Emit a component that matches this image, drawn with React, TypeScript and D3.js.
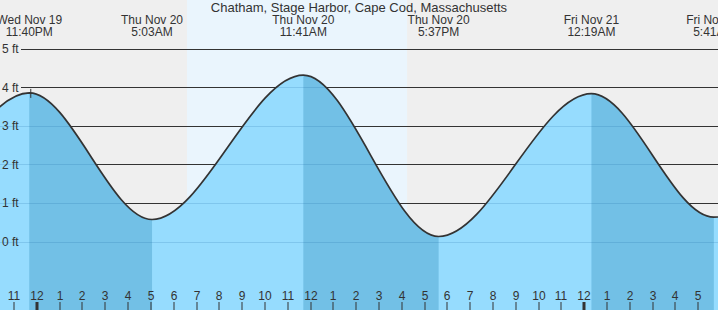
import React from "react";
import * as d3 from "d3";

const W = 718;
const H = 310;

const title = "Chatham, Stage Harbor, Cape Cod, Massachusetts";

// tide extremes (local time), heights in ft; first two / last one lie outside the view
const tideTimes = [
  "2025-11-19T11:10",
  "2025-11-19T17:10",
  "2025-11-19T23:40",
  "2025-11-20T05:03",
  "2025-11-20T11:41",
  "2025-11-20T17:37",
  "2025-11-21T00:19",
  "2025-11-21T05:41",
  "2025-11-21T12:20",
];
const tideHeights = [4.1, 0.35, 3.85, 0.57, 4.31, 0.13, 3.83, 0.63, 4.2];

const eventDates = ["Wed Nov 19", "Thu Nov 20", "Thu Nov 20", "Thu Nov 20", "Fri Nov 21", "Fri Nov 21"];
const eventClock = ["11:40PM", "5:03AM", "11:41AM", "5:37PM", "12:19AM", "5:41AM"];
const eventTimes = [
  "2025-11-19T23:40",
  "2025-11-20T05:03",
  "2025-11-20T11:41",
  "2025-11-20T17:37",
  "2025-11-21T00:19",
  "2025-11-21T05:41",
];

const sunrise = "2025-11-20T06:35";
const sunset = "2025-11-20T16:14";
const markerTime = "2025-11-19T23:40";
const markerHeight = 3.85;

const domainStart = "2025-11-19T22:23";
const domainEnd = "2025-11-21T05:52";

const feetTicks = [0, 1, 2, 3, 4, 5];

const parse = (s: string) => {
  const [d, t] = s.split("T");
  const [Y, M, D] = d.split("-").map(Number);
  const [h, m] = t.split(":").map(Number);
  return new Date(Date.UTC(Y, M - 1, D, h, m));
};

const FONT = "'Liberation Sans', Arial, Helvetica, sans-serif";
const TXT = "#333";

export default function App() {
  const x = d3.scaleUtc().domain([parse(domainStart), parse(domainEnd)]).range([0, W]);
  const y = d3.scaleLinear().domain([0, 5]).range([241.5, 48.5]);

  const pts = tideTimes.map((t, i) => ({ t: parse(t), h: tideHeights[i] }));
  const line = d3
    .line<{ t: Date; h: number }>()
    .x((d) => x(d.t))
    .y((d) => y(d.h))
    .curve(d3.curveMonotoneX);
  const area = d3
    .area<{ t: Date; h: number }>()
    .x((d) => x(d.t))
    .y0(H + 5)
    .y1((d) => y(d.h))
    .curve(d3.curveMonotoneX);

  const falling: { a: Date; b: Date }[] = [];
  for (let i = 0; i < pts.length - 1; i++) {
    if (pts[i].h > pts[i + 1].h) falling.push({ a: pts[i].t, b: pts[i + 1].t });
  }

  const hours = x.ticks(d3.utcHour.every(1) as any);
  const fmtH = d3.utcFormat("%-I");

  const areaD = area(pts) || "";
  const gx0 = 21;

  return (
    <svg
      width={W}
      height={H}
      style={{ position: "absolute", left: 0, top: 0, display: "block" }}
      fontFamily={FONT}
    >
      <defs>
        <clipPath id="water">
          <path d={areaD} />
        </clipPath>
      </defs>
      <rect x={0} y={0} width={W} height={H} fill="#efefef" />
      <rect
        x={x(parse(sunrise))}
        y={0}
        width={x(parse(sunset)) - x(parse(sunrise))}
        height={H}
        fill="#eaf5fd"
      />
      {feetTicks.map((f) => (
        <line
          key={"g" + f}
          x1={gx0}
          x2={W}
          y1={Math.round(y(f)) + 0.5}
          y2={Math.round(y(f)) + 0.5}
          stroke="#333"
          strokeWidth={1}
        />
      ))}
      <path d={areaD} fill="#96dcfe" />
      <g clipPath="url(#water)">
        {falling.map((s, i) => (
          <rect key={"f" + i} x={x(s.a)} y={0} width={x(s.b) - x(s.a)} height={H} fill="#72c0e6" />
        ))}
        {feetTicks.map((f) => (
          <line
            key={"w" + f}
            x1={0}
            x2={W}
            y1={Math.round(y(f)) + 0.5}
            y2={Math.round(y(f)) + 0.5}
            stroke="rgba(20,100,160,0.18)"
            strokeWidth={1}
          />
        ))}
      </g>
      <path d={line(pts) || ""} fill="none" stroke="#333" strokeWidth={1.7} />
      {/* marker */}
      <g stroke="#333" strokeWidth={1}>
        <line x1={x(parse(markerTime)) + 1.5} x2={x(parse(markerTime)) + 1.5} y1={y(markerHeight) - 4} y2={y(markerHeight) + 5} />
        <line x1={x(parse(markerTime)) - 2.5} x2={x(parse(markerTime)) + 5.5} y1={y(markerHeight) + 0.5} y2={y(markerHeight) + 0.5} />
      </g>
      {feetTicks.map((f) => (
        <text key={"l" + f} x={2} y={y(f) + 4.5} fontSize={12} fill={TXT}>
          {f} ft
        </text>
      ))}
      <text x={W / 2} y={12} fontSize={13} fill={TXT} textAnchor="middle">
        {title}
      </text>
      {eventTimes.map((t, i) => (
        <g key={"e" + i}>
          <text x={x(parse(t))} y={23.5} fontSize={12} fill={TXT} textAnchor="middle">
            {eventDates[i]}
          </text>
          <text x={x(parse(t))} y={36} fontSize={12} fill={TXT} textAnchor="middle">
            {eventClock[i]}
          </text>
        </g>
      ))}
      {hours.map((h, i) => {
        const mid = h.getUTCHours() === 0;
        const px = Math.round(x(h));
        return (
          <g key={"h" + i}>
            <text x={px} y={300} fontSize={12} fill={TXT} textAnchor="middle">
              {fmtH(h)}
            </text>
            <rect x={mid ? px - 1.5 : px - 0.5} y={302} width={mid ? 3 : 1} height={8} fill="#333" />
          </g>
        );
      })}
    </svg>
  );
}
